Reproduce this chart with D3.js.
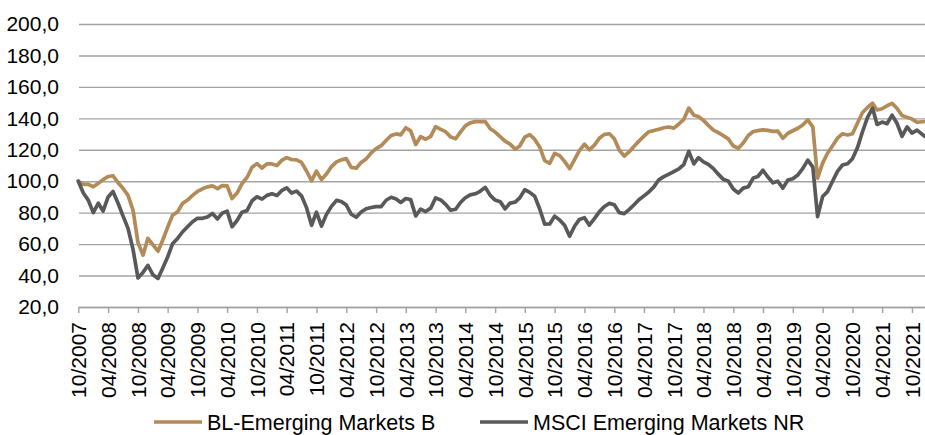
<!DOCTYPE html>
<html>
<head>
<meta charset="utf-8">
<script src="https://cdn.jsdelivr.net/npm/d3@7"></script>
<style>
  body { margin: 0; background: #fff; }
  svg { display: block; font-family: "Liberation Sans", Arial, sans-serif; }
</style>
</head>
<body>
<svg id="chart" width="925" height="435"></svg>
<script>
// monthly observations, Oct 2007 .. Dec 2021
var months = [
  "2007-10","2007-11","2007-12",
  "2008-01","2008-02","2008-03","2008-04","2008-05","2008-06","2008-07","2008-08","2008-09","2008-10","2008-11","2008-12",
  "2009-01","2009-02","2009-03","2009-04","2009-05","2009-06","2009-07","2009-08","2009-09","2009-10","2009-11","2009-12",
  "2010-01","2010-02","2010-03","2010-04","2010-05","2010-06","2010-07","2010-08","2010-09","2010-10","2010-11","2010-12",
  "2011-01","2011-02","2011-03","2011-04","2011-05","2011-06","2011-07","2011-08","2011-09","2011-10","2011-11","2011-12",
  "2012-01","2012-02","2012-03","2012-04","2012-05","2012-06","2012-07","2012-08","2012-09","2012-10","2012-11","2012-12",
  "2013-01","2013-02","2013-03","2013-04","2013-05","2013-06","2013-07","2013-08","2013-09","2013-10","2013-11","2013-12",
  "2014-01","2014-02","2014-03","2014-04","2014-05","2014-06","2014-07","2014-08","2014-09","2014-10","2014-11","2014-12",
  "2015-01","2015-02","2015-03","2015-04","2015-05","2015-06","2015-07","2015-08","2015-09","2015-10","2015-11","2015-12",
  "2016-01","2016-02","2016-03","2016-04","2016-05","2016-06","2016-07","2016-08","2016-09","2016-10","2016-11","2016-12",
  "2017-01","2017-02","2017-03","2017-04","2017-05","2017-06","2017-07","2017-08","2017-09","2017-10","2017-11","2017-12",
  "2018-01","2018-02","2018-03","2018-04","2018-05","2018-06","2018-07","2018-08","2018-09","2018-10","2018-11","2018-12",
  "2019-01","2019-02","2019-03","2019-04","2019-05","2019-06","2019-07","2019-08","2019-09","2019-10","2019-11","2019-12",
  "2020-01","2020-02","2020-03","2020-04","2020-05","2020-06","2020-07","2020-08","2020-09","2020-10","2020-11","2020-12",
  "2021-01","2021-02","2021-03","2021-04","2021-05","2021-06","2021-07","2021-08","2021-09","2021-10","2021-11","2021-12"
];

var blFund = [
  100, 98, 98,
  96.5, 98.7, 101, 103, 103.5, 99, 95.5, 91, 81.5, 61, 53, 63.7,
  59.5, 55.5, 62.3, 70.7, 78.3, 80.5, 85.8, 88, 91, 93.5, 95.2, 96.4,
  97, 95.3, 97.2, 97, 89, 92.5, 98.4, 102.4, 108.9, 111.2, 108.4, 111,
  111, 110, 113.2, 115, 113.8, 113.6, 112, 106.5, 100.2, 106.4, 101, 104.6,
  109.3, 112.3, 113.6, 114.4, 108.8, 108.3, 111.9, 114.2, 118, 120.7, 122.6, 125.9,
  129.1, 130.1, 129.5, 134, 132, 123.3, 128.4, 126.7, 128.5, 134.7, 133, 131.5,
  128.2, 127, 131.1, 135.2, 137.1, 137.9, 137.9, 137.9, 133.4, 131.3, 128.4, 125.5,
  123.6, 120.4, 122.4, 128, 129.7, 126.6, 121.8, 113.1, 111.4, 117.7, 116.3, 112.6,
  108, 113.9, 119.5, 123.5, 120, 123, 127.3, 129.8, 130.2, 127, 119.7, 116,
  118.8, 122.4, 125.5, 128.7, 131.5, 132.2, 133.1, 134, 134.5, 133.8, 136.4, 139.2,
  146.5, 142, 141.1, 138.7, 135.5, 132.5, 130.9, 129, 126.8, 122.4, 121, 124.3,
  129.1, 131.6, 132.2, 132.7, 132.3, 131.7, 131.9, 127.3, 130.5, 132.1, 133.7, 135.8,
  139, 134.5, 102, 111.5, 117.8, 122.6, 127.4, 130.2, 129.4, 130.2, 137, 143.6,
  146.9, 149.6, 145.3, 146.1, 148, 149.5, 146.4, 141.8, 140.6, 139.5, 137.5, 138
];

var msciEm = [
  100, 92.5, 88,
  80, 86, 81, 90, 93.5, 86, 78, 70, 56.5, 38.5, 42, 46.5,
  40.5, 38.2, 44.5, 51.8, 60.2, 63.6, 67.7, 71, 74.2, 76.4, 76.4, 77.3,
  79.5, 76, 79.6, 81, 71, 75, 80.3, 81.3, 87.6, 90.1, 88.6, 91,
  92, 90.9, 94, 95.8, 92.5, 93.7, 90.7, 83.2, 72, 80.3, 71.5, 78.9,
  84, 87.8, 87.1, 84.8, 79, 77.1, 80.4, 82.5, 83.3, 83.8, 83.8, 87.9,
  89.8, 88.7, 86.5, 89, 88.3, 77.9, 82.3, 80.7, 82.9, 89.4, 88.1, 85.3,
  81.5, 82.2, 86.3, 89.5, 91.3, 92, 93.6, 96.1, 91, 88, 87, 82.4,
  86.1, 86.7, 89.4, 94.6, 92.9, 90.4, 82.5, 72.7, 72.8, 77.8, 75.4, 72,
  65, 71.5, 75.7, 76.8, 72, 76.2, 80.5, 83.9, 85.9, 85, 80, 79.4,
  82.1, 85.2, 88.2, 90.7, 93.1, 96.4, 100.9, 102.9, 104.5, 106.1, 107.8, 110.6,
  119, 111, 115, 112.3, 110.7, 108, 104.5, 101.2, 100, 95, 92.5, 95.6,
  96.5, 102.1, 103, 107, 102.7, 99, 100, 95.6, 100.8, 101.6, 104, 108,
  113.4, 109, 77.5, 90.3, 93.4, 100, 106.3, 110.3, 111.1, 114.3, 121.4, 131.3,
  140.5, 146.5, 136.1, 137.6, 136.6, 142, 136.9, 128.6, 134.6, 130.6, 132.5, 128.4
];

var xTickLabels = [
  "10/2007","04/2008","10/2008","04/2009","10/2009","04/2010","10/2010","04/2011",
  "10/2011","04/2012","10/2012","04/2013","10/2013","04/2014","10/2014","04/2015",
  "10/2015","04/2016","10/2016","04/2017","10/2017","04/2018","10/2018","04/2019",
  "10/2019","04/2020","10/2020","04/2021","10/2021"
];
var yTicks = [20, 40, 60, 80, 100, 120, 140, 160, 180, 200];

var seriesNames = ["BL-Emerging Markets B", "MSCI Emerging Markets NR"];
var colors = ["#B28B58", "#595959"];

var svg = d3.select("#chart");
var width = 925;
var plotLeft = 79;

var parseMonth = d3.timeParse("%Y-%m");
var parseTick = d3.timeParse("%m/%Y");
var dates = months.map(parseMonth);
// last observation is mid-December, not first of month
dates[dates.length - 1] = d3.timeDay.offset(dates[dates.length - 1], 19);

var x = d3.scaleTime()
  .domain([dates[0], dates[dates.length - 1]])
  .range([78.3, width]);

var y = d3.scaleLinear()
  .domain([20, 200])
  .range([307, 24]);

var deLocale = d3.formatLocale({decimal: ",", thousands: ".", grouping: [3], currency: ["", " €"]});
var fmt = deLocale.format(".1f");

// y axis + gridlines
var yAxis = d3.axisLeft(y)
  .tickValues(yTicks)
  .tickFormat(fmt)
  .tickSize(-(width - plotLeft))
  .tickPadding(20);

var gy = svg.append("g")
  .attr("transform", "translate(" + plotLeft + ",0)")
  .call(yAxis);
gy.select(".domain").remove();
gy.selectAll(".tick line").attr("stroke", "#A3A3A3").attr("stroke-width", 1.4);
gy.selectAll(".tick text")
  .attr("fill", "#000")
  .attr("font-size", "21px")
  .attr("font-family", "Liberation Sans, Arial, sans-serif");

// x axis
var xAxis = d3.axisBottom(x)
  .tickValues(xTickLabels.map(parseTick))
  .tickFormat(d3.timeFormat("%m/%Y"))
  .tickSizeInner(6)
  .tickSizeOuter(0);

var gx = svg.append("g")
  .attr("transform", "translate(0," + y(20) + ")")
  .call(xAxis);
gx.select(".domain").attr("stroke", "#A3A3A3").attr("stroke-width", 1.4);
gx.selectAll(".tick line").attr("stroke", "#A3A3A3").attr("stroke-width", 1.4);
gx.selectAll(".tick text")
  .attr("fill", "#000")
  .attr("font-size", "21px")
  .attr("font-family", "Liberation Sans, Arial, sans-serif")
  .attr("text-anchor", "end")
  .attr("transform", "translate(0,15) rotate(-90)")
  .attr("x", 0)
  .attr("y", 0)
  .attr("dy", "0.35em");

// lines
var line = d3.line()
  .x(function(d, i) { return x(dates[i]); })
  .y(function(d) { return y(d); });

[blFund, msciEm].forEach(function(s, i) {
  svg.append("path")
    .datum(s)
    .attr("fill", "none")
    .attr("stroke", colors[i])
    .attr("stroke-width", 3.7)
    .attr("stroke-linejoin", "round")
    .attr("stroke-linecap", "round")
    .attr("d", line);
});

// legend (kept just inside the bottom edge)
var legendX = [154, 480];
var legend = svg.append("g").attr("class", "legend");
seriesNames.forEach(function(name, i) {
  var g = legend.append("g").attr("transform", "translate(" + legendX[i] + ",422)");
  g.append("line")
    .attr("x1", 0).attr("x2", 48)
    .attr("y1", 0).attr("y2", 0)
    .attr("stroke", colors[i])
    .attr("stroke-width", 3.5);
  g.append("text")
    .attr("x", 53)
    .attr("y", 0)
    .attr("dy", "0.36em")
    .attr("font-size", "21.5px")
    .attr("fill", "#000")
    .text(name);
});
</script>
</body>
</html>
